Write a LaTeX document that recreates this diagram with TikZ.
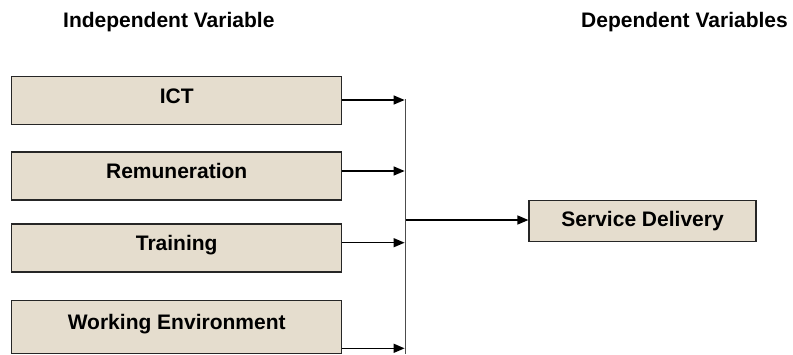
\documentclass[tikz,border=0pt]{standalone}
\usepackage{fontspec}
\setmainfont{Liberation Sans}
\usetikzlibrary{arrows.meta}
\definecolor{boxfill}{RGB}{229,221,206}
\begin{document}
\begin{tikzpicture}[x=1pt,y=-1pt,
  every node/.style={font=\fontsize{21}{25}\selectfont\bfseries},
  varbox/.style={draw=black!85,line width=1.4pt,fill=boxfill,inner sep=0pt,
    minimum width=330pt,minimum height=48pt,text height=15pt,text depth=10pt},
  outbox/.style={draw=black!85,line width=1.4pt,fill=boxfill,inner sep=0pt,
    minimum width=227pt,minimum height=41pt,text height=15pt,text depth=3.5pt},
  head/.style={inner sep=0pt,anchor=base west},
  conn/.style={line width=1.4pt,-{Triangle[length=11pt,width=9pt]}},
  bus/.style={line width=1.8pt,draw=black!70}]
\useasboundingbox (0,0) rectangle (793,354);
\node[head] (ivh) at (63,27) {Independent Variable};
\node[head,anchor=base east] (dvh) at (788,27) {Dependent Variables};
\node[varbox] (ict) at (176.7,100.5) {ICT};
\node[varbox] (rem) at (176.7,176) {Remuneration};
\node[varbox] (trn) at (176.7,248) {Training};
\node[varbox,minimum height=53pt] (wrk) at (176.7,326.7) {Working Environment};
\node[outbox] (svc) at (642.6,221.2) {Service Delivery};
\coordinate (bt) at (405.5,99.3);
\coordinate (bb) at (405.5,354);
\coordinate (bm) at (405.5,220);
\draw[bus] (bt) -- (bb);
\draw[conn] (ict.east |- 0,100) -- (404.6,100);
\draw[conn] (rem.east |- 0,171) -- (404.6,171);
\draw[conn] (trn.east |- 0,242.7) -- (404.6,242.7);
\draw[conn] (wrk.east |- 0,348.3) -- (404.6,348.3);
\draw[conn] (bm) -- (svc.west |- bm);
\end{tikzpicture}
\end{document}
